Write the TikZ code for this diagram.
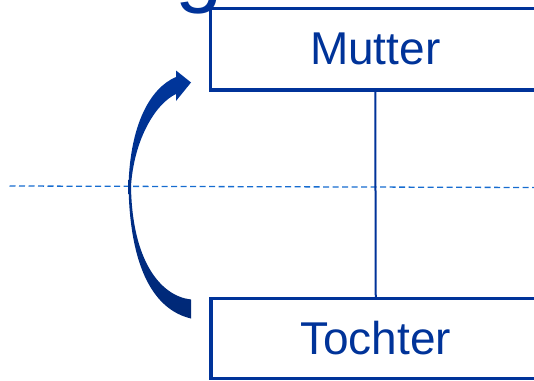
\documentclass[tikz,border=0pt]{standalone}
\usepackage{fontspec}
\setmainfont{Liberation Sans}
\definecolor{boxblue}{RGB}{0,51,153}
\definecolor{arrowtop}{RGB}{0,54,156}
\definecolor{arrowmid}{RGB}{40,90,180}
\definecolor{arrowbot}{RGB}{0,40,118}
\definecolor{axisblue}{RGB}{22,108,208}
\begin{document}
\begin{tikzpicture}[x=1pt,y=-1pt,
  famblock/.style={draw=boxblue, line width=3.5pt, text=boxblue,
    font=\fontsize{46}{50}\selectfont, inner sep=0pt, outer sep=0pt,
    anchor=north west, minimum width=329.5pt},
  link/.style={draw=boxblue, line width=2pt},
  axisline/.style={draw=axisblue, line width=1.3pt, dash pattern=on 6pt off 3.5pt}
]
\useasboundingbox (0,0) rectangle (534,380);
\clip (0,0) rectangle (534,380);

% tail of the title's last letter, reaching down into the picture
\node[font=\fontsize{85}{90}\selectfont, text=boxblue, anchor=base west, inner sep=0pt]
  (titletail) at (175,-3) {g};

% horizontal dashed axis
\coordinate (axisL) at (9.5,186);
\coordinate (axisR) at (534,187.5);
\draw[axisline] (axisL) -- (axisR);

% the two generation boxes
\node[famblock, minimum height=81.5pt] (mutter) at (210.5,8.5) {Mutter};
\node[famblock, minimum height=80pt] (tochter) at (211,298.3) {Tochter};
\draw[link] (mutter.south) -- (tochter.north);

% curved block arrow from the lower box up to the upper one
\shade[top color=arrowtop, middle color=arrowmid, bottom color=arrowbot]
  (191,318.5) .. controls (155,310) and (130,270) .. (128.5,186)
  .. controls (130,125) and (150,88) .. (176,77)
  -- (176,70.5) -- (191,82.5) -- (176,101) -- (176,94)
  .. controls (155,104) and (134,140) .. (131,186)
  .. controls (132,260) and (160,296) .. (191,299.5)
  -- cycle;
\end{tikzpicture}
\end{document}
